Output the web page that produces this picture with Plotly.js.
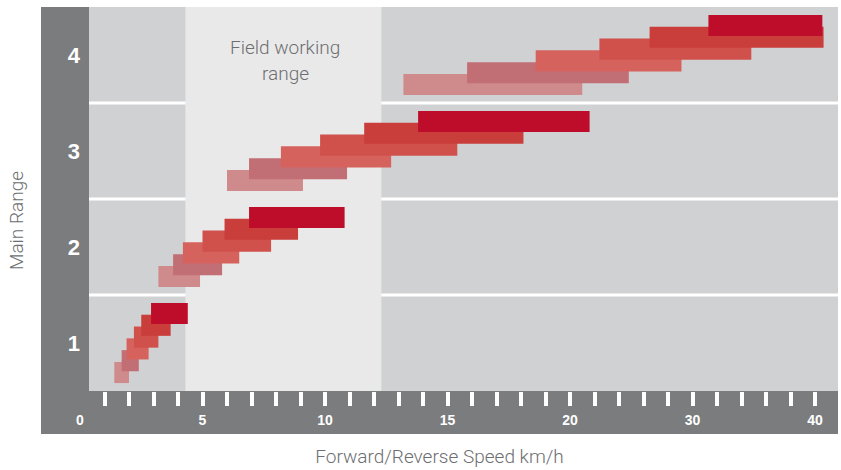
<!DOCTYPE html>
<html>
<head>
<meta charset="utf-8">
<script src="https://cdn.plot.ly/plotly-3.0.1.min.js"></script>
<style>html,body{margin:0;padding:0;background:#fff;}#chart{width:841px;height:470px;}</style>
</head>
<body>
<div id="chart"></div>
<script>
// ---- data (speeds in km/h) ----
const mainRanges = [1, 2, 3, 4];
const rangeLabels = ['1', '2', '3', '4'];
const gearNames = ['Gear 1', 'Gear 2', 'Gear 3', 'Gear 4', 'Gear 5', 'Gear 6'];
const gear1Start = [1.4, 3.2, 6.0, 13.2];
const gear1End   = [2.0, 4.9, 9.1, 21.0];
const gear2Start = [1.7, 3.8, 6.9, 15.8];
const gear2End   = [2.4, 5.8, 10.9, 24.8];
const gear3Start = [1.9, 4.2, 8.2, 18.6];
const gear3End   = [2.8, 6.5, 12.7, 29.1];
const gear4Start = [2.2, 5.0, 9.8, 22.4];
const gear4End   = [3.2, 7.8, 15.4, 34.8];
const gear5Start = [2.5, 5.9, 11.6, 26.5];
const gear5End   = [3.7, 8.9, 18.1, 40.7];
const gear6Start = [2.9, 6.9, 13.8, 31.3];
const gear6End   = [4.4, 10.8, 21.6, 40.6];
const fieldRange = [4.3, 12.3];
const fieldLabel = ['Field working', 'range'];
const labelSpeeds = [0, 5, 10, 15, 20, 30, 40];
const labelTexts = ['0', '5', '10', '15', '20', '30', '40'];
const tickSpeeds = [1,2,3,4,5,6,7,8,9,10,11,12,13,14,15,16,17,18,19,20,22,24,26,28,30,32,34,36,38,40];

// ---- styling ----
const gearColors = ['#cf8a8c', '#c26e75', '#d6625e', '#d0504b', '#c93d3a', '#be0d2b'];
const darkGray = '#7b7c7e', lightGray = '#d0d1d3', fieldGray = '#e9e9e9', textGray = '#6d6e71';
const titleFont = 'Roboto, Liberation Sans, Arial, sans-serif';

// axis scale: linear up to 20 km/h, half scale above 20
function toU(s) { return s <= 20 ? s : 20 + (s - 20) / 2; }
function gearOffset(i) { return (i - 2.5) * 0.123; }

const starts = [gear1Start, gear2Start, gear3Start, gear4Start, gear5Start, gear6Start];
const ends = [gear1End, gear2End, gear3End, gear4End, gear5End, gear6End];

const traces = starts.map((st, i) => ({
  type: 'bar',
  orientation: 'h',
  name: gearNames[i],
  y: mainRanges.map(r => r + gearOffset(i)),
  base: st.map(toU),
  x: st.map((s, k) => toU(ends[i][k]) - toU(s)),
  width: 0.22,
  marker: {color: gearColors[i], line: {width: 0}},
  hoverinfo: 'skip',
  showlegend: false
}));

const yAxisPos = 48 / 797;   // left edge of the light panel within plotting area
const xAxisPos = 43 / 427;   // top of the bottom strip

const layout = {
  width: 841, height: 470,
  margin: {l: 41, r: 3, t: 7, b: 36, pad: 0},
  paper_bgcolor: '#ffffff',
  plot_bgcolor: darkGray,
  barmode: 'overlay',
  showlegend: false,
  xaxis: {
    range: [-1.592, 30.939],
    anchor: 'free', position: xAxisPos,
    tickmode: 'array', tickvals: labelSpeeds.map(toU), ticktext: labelTexts,
    ticks: 'inside', ticklen: 1, tickcolor: 'rgba(0,0,0,0)',
    ticklabelstandoff: 19,
    tickfont: {family: 'Liberation Sans, Arial, sans-serif', size: 14, color: '#ffffff', weight: 'bold'},
    minor: {tickmode: 'array', tickvals: tickSpeeds.map(toU), ticks: 'outside', ticklen: 14, tickwidth: 4, tickcolor: '#ffffff', showgrid: false},
    showgrid: false, zeroline: false, showline: false, fixedrange: true,
    title: {text: 'Forward/Reverse Speed km/h', font: {family: titleFont, size: 19, color: textGray, weight: 300}, standoff: 22}
  },
  yaxis: {
    range: [0.052, 4.5],
    anchor: 'free', position: yAxisPos,
    tickmode: 'array', tickvals: mainRanges, ticktext: rangeLabels,
    ticks: '', ticklabelstandoff: 9,
    tickfont: {family: 'Liberation Sans, Arial, sans-serif', size: 22, color: '#ffffff', weight: 'bold'},
    showgrid: false, zeroline: false, showline: false, fixedrange: true,
    title: {text: 'Main Range', font: {family: titleFont, size: 19, color: textGray, weight: 300}, standoff: 38}
  },
  shapes: [
    {type: 'rect', layer: 'below', xref: 'paper', yref: 'y', x0: yAxisPos, x1: 1, y0: 0.5, y1: 4.5, fillcolor: lightGray, line: {width: 0}},
    {type: 'rect', layer: 'below', xref: 'x', yref: 'y', x0: toU(fieldRange[0]), x1: toU(fieldRange[1]), y0: 0.5, y1: 4.5, fillcolor: fieldGray, line: {width: 0}}
  ].concat(mainRanges.slice(0, 3).map(r => ({
    type: 'line', layer: 'below', xref: 'paper', yref: 'y', x0: yAxisPos, x1: 1, y0: r + 0.5, y1: r + 0.5,
    line: {color: '#ffffff', width: 3}
  }))),
  annotations: fieldLabel.map((t, k) => ({
    xref: 'x', yref: 'y', x: toU((fieldRange[0] + fieldRange[1]) / 2) + 0.08, y: 4.083 - k * 0.28,
    text: t, showarrow: false, xanchor: 'center', yanchor: 'middle',
    font: {family: titleFont, size: 19, color: textGray, weight: 300}
  }))
};

Plotly.newPlot('chart', traces, layout, {displayModeBar: false, staticPlot: true});
</script>
</body>
</html>
